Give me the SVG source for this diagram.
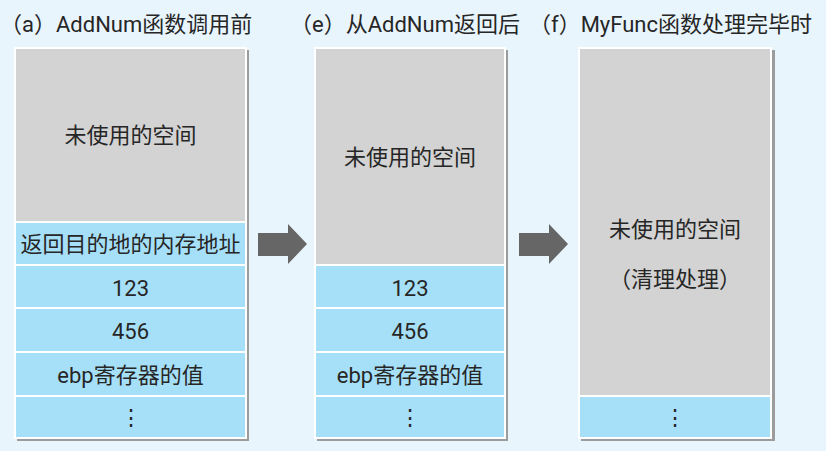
<svg xmlns="http://www.w3.org/2000/svg" width="826" height="451" viewBox="0 0 826 451">
<style>
.bg{fill:#e9f5fd}
.frame{fill:#ffffff}
.shadow{fill:#9c9c9c}
.gray{fill:#d3d3d3}
.blue{fill:#a6e0f8}
.t{font-family:Roboto,"Noto Sans CJK SC",sans-serif;font-size:22px;fill:#262626}
.c{text-anchor:middle}
.arrow{fill:#666666}
</style>
<rect class="bg" x="0" y="0" width="826" height="451"/>
<g id="title-a"><text class="t" x="0" y="32">（a）AddNum函数调用前</text></g>
<g id="title-e"><text class="t" x="290" y="32">（e）从AddNum返回后</text></g>
<g id="title-f"><text class="t" x="529" y="32">（f）MyFunc函数处理完毕时</text></g>

<g id="stack-a">
<rect class="shadow" x="17" y="50" width="232" height="391"/>
<rect class="frame" x="14" y="47" width="233" height="392"/>
<rect class="gray" x="16" y="49" width="229" height="172"/>
<text class="t c" x="130.5" y="143">未使用的空间</text>
<rect class="blue" x="16" y="223" width="229" height="41"/>
<text class="t c" x="130.5" y="252">返回目的地的内存地址</text>
<rect class="blue" x="16" y="266" width="229" height="41"/>
<text class="t c" x="130.5" y="296">123</text>
<rect class="blue" x="16" y="309" width="229" height="42"/>
<text class="t c" x="130.5" y="339">456</text>
<rect class="blue" x="16" y="353" width="229" height="42"/>
<text class="t c" x="130.5" y="383">ebp寄存器的值</text>
<rect class="blue" x="16" y="397" width="229" height="40"/>
<text class="t c" x="130.5" y="425">⋮</text>
</g>

<g id="stack-e">
<rect class="shadow" x="317" y="50" width="191" height="391"/>
<rect class="frame" x="314" y="47" width="192" height="392"/>
<rect class="gray" x="316" y="49" width="188" height="215"/>
<text class="t c" x="410" y="165">未使用的空间</text>
<rect class="blue" x="316" y="266" width="188" height="41"/>
<text class="t c" x="410" y="296">123</text>
<rect class="blue" x="316" y="309" width="188" height="42"/>
<text class="t c" x="410" y="339">456</text>
<rect class="blue" x="316" y="353" width="188" height="42"/>
<text class="t c" x="410" y="383">ebp寄存器的值</text>
<rect class="blue" x="316" y="397" width="188" height="40"/>
<text class="t c" x="410" y="425">⋮</text>
</g>

<g id="stack-f">
<rect class="shadow" x="581" y="50" width="194" height="391"/>
<rect class="frame" x="578" y="47" width="194" height="392"/>
<rect class="gray" x="580" y="49" width="190" height="346"/>
<text class="t c" x="675" y="237">未使用的空间</text>
<text class="t c" x="675" y="287">（清理处理）</text>
<rect class="blue" x="580" y="397" width="190" height="40"/>
<text class="t c" x="675" y="425">⋮</text>
</g>

<g id="connectors">
<polygon class="arrow" points="258,233 288,233 288,224 307,244 288,264 288,256 258,256"/>
<polygon class="arrow" points="519,233 549,233 549,224 568,244 549,264 549,256 519,256"/>
</g>
</svg>
